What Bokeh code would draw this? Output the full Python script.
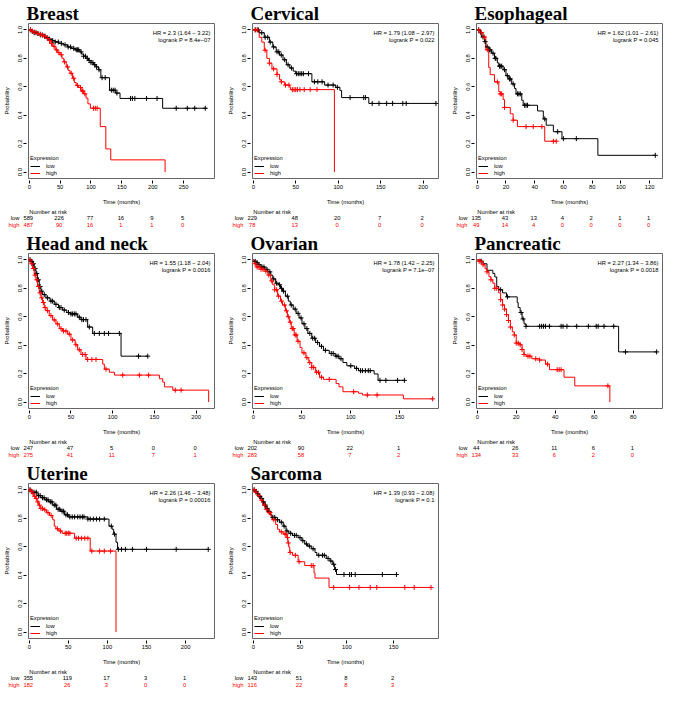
import numpy as np
from bokeh.plotting import figure
from bokeh.layouts import column, row
from bokeh.models import Label, FixedTicker, Legend, LegendItem, PrintfTickFormatter, Range1d
from bokeh.embed import file_html
from bokeh.resources import INLINE

# ---------------- data ----------------
YTICKS = [0.0, 0.2, 0.4, 0.6, 0.8, 1.0]

# Breast
BREAST_LOW_T = [0, 3, 8, 12, 17, 22, 27, 32, 37, 42, 48, 55, 62, 68, 75, 82, 85, 88, 92, 96, 100, 104, 108, 112, 116, 130, 140, 147, 216, 288]
BREAST_LOW_S = [1.0, 0.99, 0.98, 0.975, 0.965, 0.955, 0.945, 0.935, 0.925, 0.915, 0.905, 0.895, 0.88, 0.87, 0.86, 0.845, 0.83, 0.815, 0.80, 0.785, 0.77, 0.755, 0.74, 0.72, 0.664, 0.576, 0.556, 0.518, 0.449, 0.449]
BREAST_LOW_C = [2, 5, 8, 11, 14, 18, 21, 25, 29, 33, 38, 42, 47, 52, 58, 63, 67, 72, 76, 78, 80, 84, 88, 91, 94, 97, 100, 103, 106, 109, 113, 118, 123, 133, 136, 139, 142, 164, 167, 171, 190, 207, 238, 256, 268, 285]
BREAST_HIGH_T = [0, 4, 8, 12, 16, 20, 24, 28, 32, 35, 38, 42, 46, 50, 53, 56, 60, 63, 66, 70, 73, 76, 80, 84, 88, 92, 95, 99, 115, 124, 132, 220]
BREAST_HIGH_S = [1.0, 0.99, 0.985, 0.975, 0.97, 0.96, 0.955, 0.94, 0.925, 0.905, 0.885, 0.86, 0.84, 0.825, 0.80, 0.775, 0.74, 0.715, 0.695, 0.66, 0.63, 0.61, 0.595, 0.57, 0.55, 0.52, 0.48, 0.449, 0.32, 0.163, 0.086, 0.0]
BREAST_HIGH_C = [2, 5, 9, 14, 18, 22, 26, 30, 33, 36, 40, 44, 48, 52, 57, 62, 68, 72, 78, 83, 86, 87, 90, 104, 107, 110]
BREAST_RISK_T = [0, 50, 100, 150, 200, 250]
BREAST_RISK_LOW = [589, 226, 77, 16, 9, 5]
BREAST_RISK_HIGH = [487, 90, 16, 1, 1, 0]
BREAST_HR = "HR = 2.3 (1.64 \u2212 3.22)"
BREAST_P = "logrank P = 8.4e\u221207"

# Cervical
CERVICAL_LOW_T = [0, 7, 13, 19, 23, 27, 31, 35, 39, 43, 47, 50, 69, 84, 97, 102, 104, 136, 215]
CERVICAL_LOW_S = [1.0, 0.98, 0.948, 0.914, 0.88, 0.846, 0.823, 0.79, 0.755, 0.732, 0.71, 0.692, 0.635, 0.612, 0.596, 0.574, 0.524, 0.483, 0.483]
CERVICAL_LOW_C = [3, 6, 10, 14, 17, 20, 24, 28, 30, 33, 37, 41, 45, 51, 53, 55, 57, 59, 65, 72, 76, 81, 88, 94, 99, 114, 130, 132, 140, 148, 157, 164, 176, 180, 215]
CERVICAL_HIGH_T = [0, 7, 10, 13, 16, 19, 22, 28, 31, 33, 37, 43, 44, 95.5]
CERVICAL_HIGH_S = [1.0, 0.948, 0.914, 0.857, 0.80, 0.766, 0.726, 0.687, 0.649, 0.635, 0.612, 0.596, 0.58, 0.0]
CERVICAL_HIGH_C = [2, 5, 14, 19, 24, 28, 33, 38, 42, 46, 48, 50, 52, 55, 60, 67, 75]
CERVICAL_RISK_T = [0, 50, 100, 150, 200]
CERVICAL_RISK_LOW = [229, 48, 20, 7, 2]
CERVICAL_RISK_HIGH = [78, 13, 0, 0, 0]
CERVICAL_HR = "HR = 1.79 (1.08 \u2212 2.97)"
CERVICAL_P = "logrank P = 0.022"

# Esophageal
ESO_LOW_T = [0, 2, 3, 5, 6, 8, 10, 12, 14, 15, 18, 20, 22, 24, 26, 27, 31, 32, 42, 46, 48, 53, 59, 84, 124]
ESO_LOW_S = [1.0, 0.98, 0.95, 0.917, 0.88, 0.86, 0.836, 0.80, 0.768, 0.745, 0.72, 0.678, 0.655, 0.62, 0.588, 0.55, 0.505, 0.47, 0.43, 0.374, 0.33, 0.284, 0.235, 0.118, 0.118]
ESO_LOW_C = [1, 2.5, 4, 5.5, 7, 8.5, 9, 11, 12.5, 13, 15.5, 16, 17, 19, 21, 22.5, 23, 25, 28, 29, 30, 33, 34, 35, 47, 56, 60, 69, 124]
ESO_HIGH_T = [0, 2, 4, 6, 8, 9, 12, 15, 16, 18, 19, 23, 25, 28, 47, 55]
ESO_HIGH_S = [1.0, 0.98, 0.95, 0.86, 0.736, 0.685, 0.634, 0.566, 0.55, 0.51, 0.455, 0.41, 0.365, 0.32, 0.217, 0.217]
ESO_HIGH_C = [1, 3, 5, 7, 14, 16, 17, 19, 25, 34, 39, 45, 53, 55]
ESO_RISK_T = [0, 20, 40, 60, 80, 100, 120]
ESO_RISK_LOW = [135, 43, 13, 4, 2, 1, 1]
ESO_RISK_HIGH = [49, 14, 4, 0, 0, 0, 0]
ESO_HR = "HR = 1.62 (1.01 \u2212 2.61)"
ESO_P = "logrank P = 0.045"

# Head and neck
HN_LOW_T = [0, 2, 4, 6, 8, 10, 12, 14, 16, 20, 25, 30, 35, 40, 45, 50, 58, 62, 70, 76, 110, 142]
HN_LOW_S = [1.0, 0.99, 0.973, 0.94, 0.905, 0.86, 0.813, 0.78, 0.756, 0.733, 0.71, 0.688, 0.665, 0.647, 0.63, 0.62, 0.597, 0.58, 0.528, 0.483, 0.323, 0.323]
HN_LOW_C = [1, 3, 5, 7, 9, 11, 13, 15, 18, 22, 26, 28, 32, 36, 38, 42, 47, 50, 52, 54, 56, 60, 63, 65, 68, 72, 78, 84, 90, 95, 108, 131, 142]
HN_HIGH_T = [0, 2, 4, 6, 8, 10, 12, 14, 16, 18, 20, 24, 28, 32, 36, 40, 46, 50, 55, 58, 62, 68, 88, 90, 96, 102, 156, 160, 162, 172, 215]
HN_HIGH_S = [1.0, 0.973, 0.94, 0.893, 0.86, 0.813, 0.768, 0.733, 0.70, 0.665, 0.643, 0.608, 0.578, 0.55, 0.517, 0.50, 0.478, 0.437, 0.403, 0.368, 0.335, 0.30, 0.267, 0.232, 0.21, 0.19, 0.164, 0.141, 0.107, 0.084, 0.0]
HN_HIGH_C = [1, 3, 5, 7, 9, 11, 13, 15, 17, 19, 22, 26, 30, 34, 38, 41, 44, 48, 52, 56, 60, 64, 67, 70, 75, 80, 92, 112, 132, 143, 175, 182]
HN_RISK_T = [0, 50, 100, 150, 200]
HN_RISK_LOW = [247, 47, 5, 0, 0]
HN_RISK_HIGH = [275, 41, 11, 7, 1]
HN_HR = "HR = 1.55 (1.18 \u2212 2.04)"
HN_P = "logrank P = 0.0016"

# Ovarian
OV_LOW_T = [0, 1, 3, 5, 8, 12, 15, 18, 20, 23, 26, 28, 30, 33, 36, 38, 41, 44, 47, 50, 53, 56, 60, 64, 68, 72, 78, 84, 88, 92, 96, 104, 108, 124, 128, 155]
OV_LOW_S = [1.0, 0.99, 0.98, 0.966, 0.95, 0.934, 0.916, 0.893, 0.866, 0.836, 0.825, 0.80, 0.78, 0.745, 0.71, 0.683, 0.654, 0.624, 0.592, 0.551, 0.517, 0.483, 0.449, 0.419, 0.392, 0.364, 0.342, 0.323, 0.305, 0.278, 0.255, 0.237, 0.221, 0.198, 0.153, 0.153]
OV_LOW_C = [2, 4, 6, 9, 11, 14, 17, 21, 24, 27, 29, 31, 35, 39, 43, 46, 49, 52, 55, 58, 61, 63, 66, 70, 74, 80, 82, 85, 87, 90, 100, 106, 110, 112, 115, 118, 120, 130, 136, 148, 155]
OV_HIGH_T = [0, 1, 3, 8, 12, 15, 18, 20, 22, 25, 28, 30, 33, 35, 37, 39, 42, 45, 48, 50, 54, 57, 60, 64, 68, 72, 85, 88, 92, 108, 112, 154, 184]
OV_HIGH_S = [1.0, 0.973, 0.95, 0.934, 0.92, 0.893, 0.852, 0.825, 0.79, 0.745, 0.71, 0.683, 0.642, 0.60, 0.562, 0.517, 0.472, 0.428, 0.383, 0.346, 0.312, 0.278, 0.244, 0.21, 0.175, 0.16, 0.13, 0.107, 0.073, 0.062, 0.05, 0.023, 0.023]
OV_HIGH_C = [2, 4, 6, 8, 10, 13, 16, 19, 22, 24, 26, 29, 32, 34, 36, 38, 40, 41, 43, 44, 46, 52, 55, 58, 60, 62, 65, 67, 70, 78, 103, 117, 127, 184]
OV_RISK_T = [0, 50, 100, 150]
OV_RISK_LOW = [202, 90, 22, 1]
OV_RISK_HIGH = [283, 58, 7, 2]
OV_HR = "HR = 1.78 (1.42 \u2212 2.25)"
OV_P = "logrank P = 7.1e\u221207"

# Pancreatic
PA_LOW_T = [0, 2, 3, 5, 8, 9, 10, 11, 13, 15, 20.5, 21, 22, 23, 24, 25, 72.5, 92]
PA_LOW_S = [1.0, 0.99, 0.973, 0.927, 0.905, 0.88, 0.813, 0.79, 0.768, 0.74, 0.70, 0.665, 0.63, 0.585, 0.55, 0.533, 0.353, 0.353]
PA_LOW_C = [2, 12, 15.5, 22.5, 23.5, 25, 32, 33, 34, 35, 37, 43, 44, 46, 51, 57, 61, 62, 65, 70, 76, 92]
PA_HIGH_T = [0, 1, 3, 4, 5, 6, 7, 8, 9, 11, 12, 13, 14, 15, 16, 17, 18, 19, 20, 22, 23, 24, 25, 28, 32, 35, 37, 44.5, 50, 68]
PA_HIGH_S = [1.0, 0.99, 0.966, 0.938, 0.916, 0.882, 0.86, 0.836, 0.80, 0.768, 0.72, 0.683, 0.654, 0.615, 0.574, 0.528, 0.494, 0.472, 0.415, 0.403, 0.37, 0.335, 0.323, 0.305, 0.296, 0.267, 0.228, 0.175, 0.114, 0.0]
PA_HIGH_C = [1, 2, 3, 5, 7, 9, 10, 12, 13, 14, 15, 16, 17, 19, 20, 21, 22, 23, 24, 26, 27, 30, 32, 36, 41, 42, 43, 67]
PA_RISK_T = [0, 20, 40, 60, 80]
PA_RISK_LOW = [44, 26, 11, 6, 1]
PA_RISK_HIGH = [134, 33, 6, 2, 0]
PA_HR = "HR = 2.27 (1.34 \u2212 3.86)"
PA_P = "logrank P = 0.0018"

# Uterine
UT_LOW_T = [0, 2, 5, 10, 15, 20, 25, 30, 35, 40, 45, 50, 75, 102, 106, 108, 111, 113, 229]
UT_LOW_S = [1.0, 0.99, 0.984, 0.96, 0.945, 0.93, 0.916, 0.893, 0.864, 0.85, 0.825, 0.81, 0.795, 0.745, 0.723, 0.689, 0.632, 0.582, 0.582]
UT_LOW_C = [1, 3, 6, 9, 12, 14, 17, 19, 22, 24, 27, 29, 32, 34, 37, 39, 42, 44, 47, 49, 52, 55, 58, 62, 65, 68, 70, 75, 78, 82, 86, 90, 96, 105, 109, 114, 118, 123, 132, 150, 188, 229]
UT_HIGH_T = [0, 2, 4, 6, 8, 10, 12, 14, 18, 22, 26, 30, 32, 34, 38, 42, 58, 78, 111]
UT_HIGH_S = [1.0, 0.99, 0.973, 0.955, 0.94, 0.916, 0.893, 0.87, 0.86, 0.84, 0.82, 0.79, 0.745, 0.727, 0.711, 0.695, 0.66, 0.57, 0.0]
UT_HIGH_C = [1, 3, 5, 7, 9, 11, 13, 15, 17, 20, 24, 28, 36, 40, 46, 48, 50, 52, 60, 63, 67, 71, 75, 80, 90, 96, 104]
UT_RISK_T = [0, 50, 100, 150, 200]
UT_RISK_LOW = [355, 119, 17, 3, 1]
UT_RISK_HIGH = [182, 26, 3, 0, 0]
UT_HR = "HR = 2.26 (1.46 \u2212 3.48)"
UT_P = "logrank P = 0.00016"

# Sarcoma
SA_LOW_T = [0, 2, 4, 6, 8, 10, 12, 14, 16, 18, 20, 24, 28, 32, 35, 38, 42, 48, 52, 55, 58, 62, 66, 68, 78, 82, 85, 87, 89, 153]
SA_LOW_S = [1.0, 0.99, 0.973, 0.955, 0.94, 0.916, 0.893, 0.87, 0.848, 0.825, 0.807, 0.79, 0.773, 0.745, 0.711, 0.695, 0.68, 0.664, 0.643, 0.62, 0.605, 0.586, 0.56, 0.54, 0.518, 0.50, 0.477, 0.44, 0.405, 0.405]
SA_LOW_C = [1, 3, 5, 7, 9, 11, 13, 15, 17, 21, 23, 26, 30, 33, 36, 40, 44, 46, 50, 53, 57, 60, 64, 70, 74, 76, 80, 83, 86, 88, 97, 103, 105, 109, 138, 153]
SA_HIGH_T = [0, 2, 5, 8, 10, 13, 16, 19, 20, 24, 26, 28, 32, 36, 37, 38, 39, 42, 48, 55, 65, 66, 81, 190]
SA_HIGH_S = [1.0, 0.984, 0.96, 0.927, 0.893, 0.864, 0.84, 0.814, 0.79, 0.757, 0.723, 0.705, 0.689, 0.666, 0.627, 0.598, 0.56, 0.54, 0.495, 0.468, 0.416, 0.38, 0.314, 0.314]
SA_HIGH_C = [1, 3, 6, 9, 12, 14, 17, 18, 22, 30, 34, 35, 36.5, 37.5, 39.5, 45, 49, 62, 64, 86, 103, 113, 125, 132, 162, 172, 190]
SA_RISK_T = [0, 50, 100, 150]
SA_RISK_LOW = [143, 51, 8, 2]
SA_RISK_HIGH = [116, 22, 8, 3]
SA_HR = "HR = 1.39 (0.93 \u2212 2.08)"
SA_P = "logrank P = 0.1"

PANELS = [
    dict(name="Breast", xend=300, lt=BREAST_LOW_T, ls=BREAST_LOW_S, lc=BREAST_LOW_C, ht=BREAST_HIGH_T, hs=BREAST_HIGH_S, hc=BREAST_HIGH_C, rt=BREAST_RISK_T, rl=BREAST_RISK_LOW, rh=BREAST_RISK_HIGH, hr=BREAST_HR, pv=BREAST_P),
    dict(name="Cervical", xend=218, lt=CERVICAL_LOW_T, ls=CERVICAL_LOW_S, lc=CERVICAL_LOW_C, ht=CERVICAL_HIGH_T, hs=CERVICAL_HIGH_S, hc=CERVICAL_HIGH_C, rt=CERVICAL_RISK_T, rl=CERVICAL_RISK_LOW, rh=CERVICAL_RISK_HIGH, hr=CERVICAL_HR, pv=CERVICAL_P),
    dict(name="Esophageal", xend=129, lt=ESO_LOW_T, ls=ESO_LOW_S, lc=ESO_LOW_C, ht=ESO_HIGH_T, hs=ESO_HIGH_S, hc=ESO_HIGH_C, rt=ESO_RISK_T, rl=ESO_RISK_LOW, rh=ESO_RISK_HIGH, hr=ESO_HR, pv=ESO_P),
    dict(name="Head and neck", xend=222, lt=HN_LOW_T, ls=HN_LOW_S, lc=HN_LOW_C, ht=HN_HIGH_T, hs=HN_HIGH_S, hc=HN_HIGH_C, rt=HN_RISK_T, rl=HN_RISK_LOW, rh=HN_RISK_HIGH, hr=HN_HR, pv=HN_P),
    dict(name="Ovarian", xend=190, lt=OV_LOW_T, ls=OV_LOW_S, lc=OV_LOW_C, ht=OV_HIGH_T, hs=OV_HIGH_S, hc=OV_HIGH_C, rt=OV_RISK_T, rl=OV_RISK_LOW, rh=OV_RISK_HIGH, hr=OV_HR, pv=OV_P),
    dict(name="Pancreatic", xend=95, lt=PA_LOW_T, ls=PA_LOW_S, lc=PA_LOW_C, ht=PA_HIGH_T, hs=PA_HIGH_S, hc=PA_HIGH_C, rt=PA_RISK_T, rl=PA_RISK_LOW, rh=PA_RISK_HIGH, hr=PA_HR, pv=PA_P),
    dict(name="Uterine", xend=237, lt=UT_LOW_T, ls=UT_LOW_S, lc=UT_LOW_C, ht=UT_HIGH_T, hs=UT_HIGH_S, hc=UT_HIGH_C, rt=UT_RISK_T, rl=UT_RISK_LOW, rh=UT_RISK_HIGH, hr=UT_HR, pv=UT_P),
    dict(name="Sarcoma", xend=198, lt=SA_LOW_T, ls=SA_LOW_S, lc=SA_LOW_C, ht=SA_HIGH_T, hs=SA_HIGH_S, hc=SA_HIGH_C, rt=SA_RISK_T, rl=SA_RISK_LOW, rh=SA_RISK_HIGH, hr=SA_HR, pv=SA_P),
]

# ---------------- styling / geometry ----------------
SANS = "Liberation Sans"
SERIF = "Liberation Serif"
FS = "5.8px"
L, FW, R = 27, 186, 10          # left border, frame width, right border (px)
FH = 155                        # frame height
BB = 27                         # bottom border of main plot (axis + label)
RH = 23                         # height of the number-at-risk strip
LOW_COLOR = "#000000"
HIGH_COLOR = "#FF0000"


def surv_at(T, S, c):
    idx = np.searchsorted(np.asarray(T, dtype=float), np.asarray(c, dtype=float), side="right") - 1
    return list(np.asarray(S, dtype=float)[idx])


def txt(p, x, y, text, color="black", align="left", xu="data", yu="screen", xo=0, yo=0):
    p.add_layout(Label(x=x, y=y, x_units=xu, y_units=yu, text=text, text_color=color,
                       text_align=align, text_baseline="middle", text_font=SANS,
                       text_font_size=FS, x_offset=xo, y_offset=yo))


def make_panel(d):
    xend = d["xend"]
    xs = -0.004 * xend
    p = figure(frame_width=FW, frame_height=FH, x_range=Range1d(xs, xend), y_range=Range1d(-0.045, 1.045),
               output_backend="svg", toolbar_location=None, title=d["name"],
               min_border_left=L, min_border_right=R, min_border_bottom=BB, min_border_top=0)
    p.frame_align = False
    p.title.text_font = SERIF
    p.title.text_font_style = "bold"
    p.title.text_font_size = "19px"
    p.title.text_color = "black"
    p.title.standoff = 0
    p.title.offset = -2
    p.grid.visible = False
    p.outline_line_color = "#666666"
    p.outline_line_width = 1
    p.background_fill_color = "white"
    p.border_fill_color = "white"

    for ax in (p.xaxis[0], p.yaxis[0]):
        ax.axis_line_color = None
        ax.major_tick_in = -2
        ax.major_tick_out = 5
        ax.minor_tick_line_color = None
        ax.major_tick_line_color = "black"
        ax.major_label_text_font = SANS
        ax.major_label_text_font_size = FS
        ax.major_label_text_color = "black"
        ax.axis_label_text_font = SANS
        ax.axis_label_text_font_size = FS
        ax.axis_label_text_font_style = "normal"
        ax.axis_label_text_color = "black"
        ax.major_label_standoff = 1
    p.xaxis.ticker = FixedTicker(ticks=d["rt"])
    p.yaxis.ticker = FixedTicker(ticks=YTICKS)
    p.yaxis.formatter = PrintfTickFormatter(format="%.1f")
    p.yaxis.major_label_orientation = "vertical"
    p.xaxis.axis_label = "Time (months)"
    p.yaxis.axis_label = "Probability"
    p.xaxis.axis_label_standoff = 7
    p.yaxis.axis_label_standoff = 6

    r_low = p.step(d["lt"], d["ls"], mode="after", line_color=LOW_COLOR, line_width=1)
    r_high = p.step(d["ht"], d["hs"], mode="after", line_color=HIGH_COLOR, line_width=1)
    p.scatter(d["lc"], surv_at(d["lt"], d["ls"], d["lc"]), marker="cross", size=5,
              line_color=LOW_COLOR, line_width=1)
    p.scatter(d["hc"], surv_at(d["ht"], d["hs"], d["hc"]), marker="cross", size=5,
              line_color=HIGH_COLOR, line_width=1)

    leg = Legend(items=[LegendItem(label="low", renderers=[r_low]),
                        LegendItem(label="high", renderers=[r_high])],
                 location="bottom_left", title="Expression")
    leg.title_text_font = SANS
    leg.title_text_font_size = FS
    leg.title_text_font_style = "normal"
    leg.title_text_color = "black"
    leg.title_standoff = 2
    leg.label_text_font = SANS
    leg.label_text_font_size = FS
    leg.label_text_color = "black"
    leg.label_height = 6
    leg.glyph_height = 6
    leg.glyph_width = 10
    leg.label_standoff = 6
    leg.spacing = 1
    leg.padding = 3
    leg.margin = 2
    leg.border_line_color = None
    leg.background_fill_alpha = 0
    p.add_layout(leg)

    txt(p, xend, 1.045, d["hr"], align="right", yu="data", xo=-4, yo=-9)
    txt(p, xend, 1.045, d["pv"], align="right", yu="data", xo=-4, yo=-16)

    # number-at-risk strip, spanning the full panel width (frame = canvas)
    k = (xend - xs) / FW
    rk = figure(width=L + FW + R, height=RH, x_range=Range1d(xs - L * k, xend + R * k),
                y_range=Range1d(0, RH), output_backend="svg", toolbar_location=None,
                x_axis_location=None, y_axis_location=None,
                min_border_left=0, min_border_right=0, min_border_top=0, min_border_bottom=0)
    rk.frame_align = False
    rk.grid.visible = False
    rk.outline_line_color = None
    rk.background_fill_color = "white"
    rk.border_fill_color = "white"
    txt(rk, 0, RH - 4, "Number at risk", xo=1)
    txt(rk, L - 8, RH - 10.5, "low", align="right", xu="screen")
    txt(rk, L - 8, RH - 17.5, "high", color=HIGH_COLOR, align="right", xu="screen")
    for t, nl, nh in zip(d["rt"], d["rl"], d["rh"]):
        txt(rk, t, RH - 10.5, str(nl), align="center")
        txt(rk, t, RH - 17.5, str(nh), color=HIGH_COLOR, align="center")
    return column(p, rk, spacing=0)


cells = [make_panel(d) for d in PANELS]
layout = column(row(*cells[0:3], spacing=0), row(*cells[3:6], spacing=0),
                row(*cells[6:8], spacing=0), spacing=0)

open("out.html", "w").write(file_html(layout, INLINE))
